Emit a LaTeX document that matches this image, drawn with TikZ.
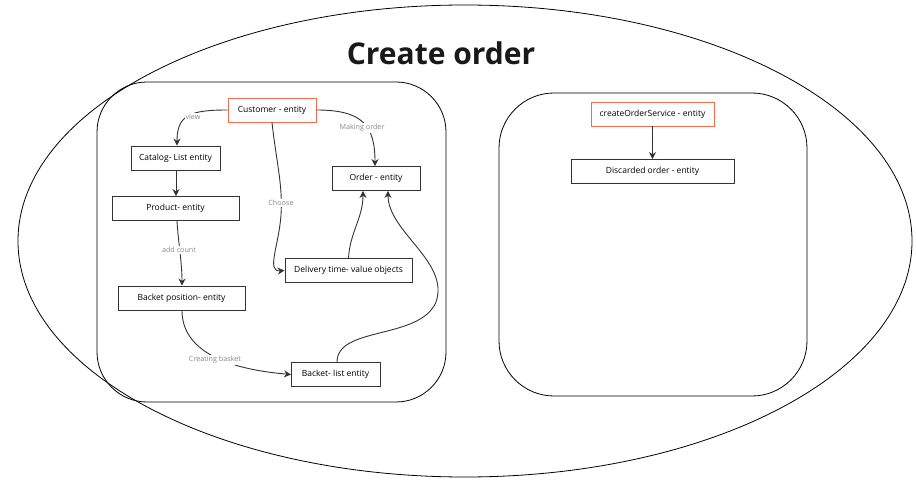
\documentclass[tikz,border=0pt]{standalone}
\usepackage{fontspec}
\setmainfont{Open Sans}
\usetikzlibrary{arrows.meta}
\definecolor{redb}{HTML}{F26B4C}
\definecolor{lbl}{HTML}{8A8A8A}
\definecolor{ln}{HTML}{333333}
\begin{document}
\begin{tikzpicture}[x=1pt,y=-1pt,
  ent/.style={draw=ln,line width=0.9pt,fill=white,minimum height=24pt,inner sep=0pt,font=\fontsize{8.5}{10}\selectfont},
  redent/.style={ent,draw=redb},
  conn/.style={draw=ln,line width=0.9pt,-{Stealth[length=7pt,width=7pt]}},
  lab/.style={fill=white,inner sep=1pt,text=lbl,font=\fontsize{7.2}{8}\selectfont},
  frame/.style={draw=black,line width=0.8pt}]
\useasboundingbox (0,0) rectangle (916,489);
\fill[white] (0,0) rectangle (916,489);
\draw[frame] (465,241) ellipse [x radius=447, y radius=236];
\node[font=\fontsize{30}{34}\selectfont\bfseries,text=black!90] (title) at (441,53) {Create order};
\draw[frame,rounded corners=50pt] (97,82) rectangle (446,402);
\draw[frame,rounded corners=55pt] (499,93) rectangle (807,396);

\node[redent,minimum width=88pt] (cust) at (272,110) {Customer - entity};
\node[ent,minimum width=89pt] (cat) at (175.5,158) {Catalog- List entity};
\node[ent,minimum width=127pt] (prod) at (175.5,208.5) {Product- entity};
\node[ent,minimum width=127pt] (bpos) at (181.5,298) {Backet position- entity};
\node[ent,minimum width=88pt] (order) at (376,178.5) {Order - entity};
\node[ent,minimum width=127pt] (deliv) at (348.5,270.5) {Delivery time- value objects};
\node[ent,minimum width=89pt] (blist) at (335.5,374.5) {Backet- list entity};
\node[redent,minimum width=123pt] (svc) at (652.5,114) {createOrderService - entity};
\node[ent,minimum width=163pt] (disc) at (652.5,171.5) {Discarded order - entity};

\draw[conn] (cust.west) .. controls (190,110) and (177,115) .. (cat.north -| 177,0);
\node[lab] (lv) at (193,117) {view};
\draw[conn] (cust.east) .. controls (362,110) and (375,125) .. (order.north -| 375,0);
\node[lab] (lm) at (362,128) {Making order};
\draw[conn] (cust.south) .. controls (276,160) and (283,185) .. (281,215) .. controls (279,245) and (266,272) .. (deliv.west);
\node[lab] (lc) at (281,203) {Choose};
\draw[conn] (cat.south -| 176,0) -- (prod.north -| 176,0);
\draw[conn] (prod.south -| 177,0) .. controls (178,240) and (182,262) .. (bpos.north -| 182,0);
\node[lab] (la) at (179,250) {add count};
\draw[conn] (bpos.south -| 182,0) .. controls (182,345) and (215,368) .. (291,374.5);
\node[lab] (lb) at (215,360) {Creating basket};
\draw[conn] (deliv.north) .. controls (350,232) and (363,218) .. (order.south -| 363,0);
\draw[conn] (blist.north -| 337,0) .. controls (337,326) and (420,340) .. (436,302) .. controls (450,262) and (388,232) .. (order.south -| 388,0);
\draw[conn] (svc.south) -- (disc.north);
\end{tikzpicture}
\end{document}
